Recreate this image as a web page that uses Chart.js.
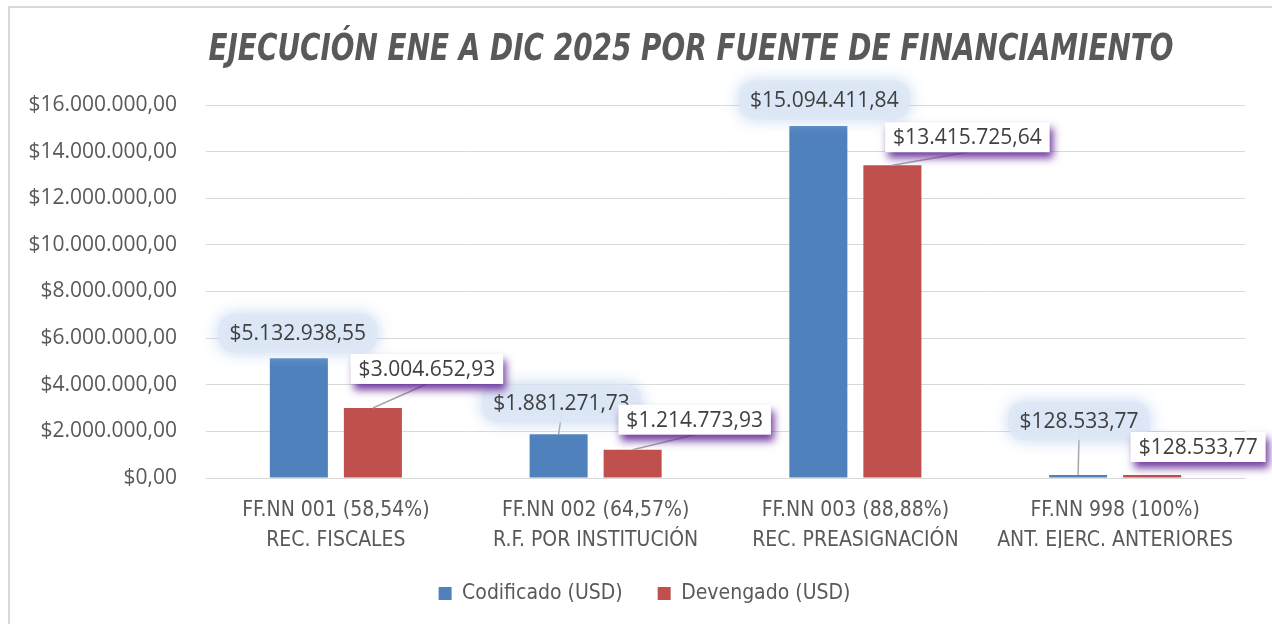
<!DOCTYPE html>
<html><head><meta charset="utf-8">
<script src="https://cdn.jsdelivr.net/npm/chart.js@4.4.1/dist/chart.umd.min.js"></script>
<style>html,body{margin:0;padding:0;background:#fff;overflow:hidden}#wrap{width:1272px;height:624px}</style>
</head><body><div id="wrap"><canvas id="c" width="1272" height="624"></canvas></div>
<script>
const titleText = "EJECUCIÓN ENE A DIC 2025 POR FUENTE DE FINANCIAMIENTO";
const categories = [
  ["FF.NN 001 (58,54%)", "REC. FISCALES"],
  ["FF.NN 002 (64,57%)", "R.F. POR INSTITUCIÓN"],
  ["FF.NN 003 (88,88%)", "REC. PREASIGNACIÓN"],
  ["FF.NN 998 (100%)", "ANT. EJERC. ANTERIORES"]
];
const seriesNames = ["Codificado (USD)", "Devengado (USD)"];
const codificado = [5132938.55, 1881271.73, 15094411.84, 128533.77];
const devengado = [3004652.93, 1214773.93, 13415725.64, 128533.77];
const yMin = 0, yMax = 16000000, yStep = 2000000;

// label placement (style): offset of label centre from bar top centre
const labelOffsets = [
  [[-1, -25], [3, -31], [6, -26], [1, -54]],
  [[54, -39], [62, -30], [75, -28], [46, -28]]
];
const leaderLines = [[false, true, false, true], [true, true, true, false]];

const NARROW = "'DejaVu Sans Condensed', 'Liberation Sans Narrow', sans-serif";
const REG = "'Open Sans', 'Noto Sans', sans-serif";

function fmt(v) {
  const s = Math.abs(v).toFixed(2).split('.');
  const i = s[0].replace(/\B(?=(\d{3})+(?!\d))/g, '.');
  return '$' + i + ',' + s[1];
}

const framePlugin = {
  id: 'frame',
  beforeDraw(chart) {
    const ctx = chart.ctx;
    ctx.save();
    ctx.fillStyle = '#fff';
    ctx.fillRect(0, 0, chart.width, chart.height);
    ctx.strokeStyle = '#d9d9d9';
    ctx.lineWidth = 2;
    ctx.strokeRect(9, 7, chart.width + 20, chart.height + 20);
    ctx.restore();
  }
};

const titlePlugin = {
  id: 'customTitle',
  afterDraw(chart) {
    const ctx = chart.ctx;
    ctx.save();
    ctx.font = "italic bold 31px " + NARROW;
    ctx.fillStyle = '#595959';
    ctx.textAlign = 'center';
    ctx.textBaseline = 'middle';
    ctx.translate(691, 50);
    ctx.scale(1, 1.2);
    ctx.fillText(titleText, 0, 0);
    ctx.restore();
  }
};

const legendShift = {
  id: 'legendShift',
  afterLayout(chart) {
    if (chart.legend) { chart.legend.left += 12; chart.legend.right += 12; }
  }
};

const labelPlugin = {
  id: 'valueLabels',
  afterDatasetsDraw(chart) {
    const ctx = chart.ctx;
    ctx.save();
    ctx.font = "21px " + REG;
    ctx.textAlign = 'center';
    ctx.textBaseline = 'middle';
    chart.data.datasets.forEach((ds, di) => {
      const meta = chart.getDatasetMeta(di);
      meta.data.forEach((bar, i) => {
        const txt = fmt(ds.data[i]);
        const off = labelOffsets[di][i];
        const cx = bar.x + off[0], cy = bar.y + off[1];
        const w = ctx.measureText(txt).width;
        if (di === 0) {
          const bw = w + 22, bh = 38;
          const bx = cx - bw / 2, by = cy - bh / 2;
          if (leaderLines[di][i]) {
            ctx.strokeStyle = '#a6a6a6'; ctx.lineWidth = 1.5;
            ctx.beginPath(); ctx.moveTo(bar.x, bar.y); ctx.lineTo(cx, cy + 11); ctx.stroke();
          }
          ctx.save();
          ctx.shadowColor = 'rgba(185,208,238,1)';
          ctx.shadowBlur = 16;
          ctx.fillStyle = 'rgba(222,232,246,0.9)';
          ctx.beginPath();
          ctx.roundRect(bx, by, bw, bh, 15);
          ctx.fill();
          ctx.restore();
        } else {
          const bw = w + 16, bh = 30;
          const bx = cx - bw / 2, by = cy - bh / 2;
          if (leaderLines[di][i]) {
            ctx.strokeStyle = '#a6a6a6'; ctx.lineWidth = 1.5;
            ctx.beginPath(); ctx.moveTo(bar.x, bar.y); ctx.lineTo(cx, by + bh); ctx.stroke();
          }
          ctx.save();
          ctx.shadowColor = 'rgba(100,40,150,0.9)';
          ctx.shadowBlur = 8;
          ctx.shadowOffsetX = 3;
          ctx.shadowOffsetY = 6;
          ctx.fillStyle = '#ffffff';
          ctx.fillRect(bx, by, bw, bh);
          ctx.restore();
        }
        ctx.fillStyle = '#404040';
        ctx.fillText(txt, cx, cy + 1);
      });
    });
    ctx.restore();
  }
};

const PAD_LEFT = 20, PAD_RIGHT = 27;

new Chart(document.getElementById('c'), {
  type: 'bar',
  data: {
    labels: categories,
    datasets: [
      { label: seriesNames[0], data: codificado, backgroundColor: '#4f81bd', borderWidth: 0 },
      { label: seriesNames[1], data: devengado, backgroundColor: '#c0504d', borderWidth: 0 }
    ]
  },
  options: {
    responsive: false,
    animation: false,
    devicePixelRatio: 1,
    categoryPercentage: 0.57,
    barPercentage: 0.784,
    layout: { padding: { left: PAD_LEFT, right: PAD_RIGHT, top: 105, bottom: 10 } },
    scales: {
      x: {
        grid: { display: false, drawTicks: false },
        border: { display: true, color: '#d9d9d9', width: 1 },
        ticks: { color: '#595959', font: { family: NARROW, size: 21, lineHeight: 1.45 }, padding: 17, maxRotation: 0, autoSkip: false },
        afterFit(s) { s.height = 70; }
      },
      y: {
        min: yMin, max: yMax,
        grid: { color: '#d9d9d9', lineWidth: 1, drawTicks: false },
        border: { display: false },
        ticks: { stepSize: yStep, color: '#595959', font: { family: REG, size: 21 }, padding: 29, callback: v => fmt(v) },
        afterFit(s) { s.width = 206 - PAD_LEFT; }
      }
    },
    plugins: {
      title: { display: false },
      tooltip: { enabled: false },
      legend: {
        position: 'bottom',
        labels: { color: '#595959', font: { family: NARROW, size: 21 }, boxWidth: 13, boxHeight: 13, padding: 35 }
      }
    }
  },
  plugins: [framePlugin, titlePlugin, legendShift, labelPlugin]
});
</script></body></html>
